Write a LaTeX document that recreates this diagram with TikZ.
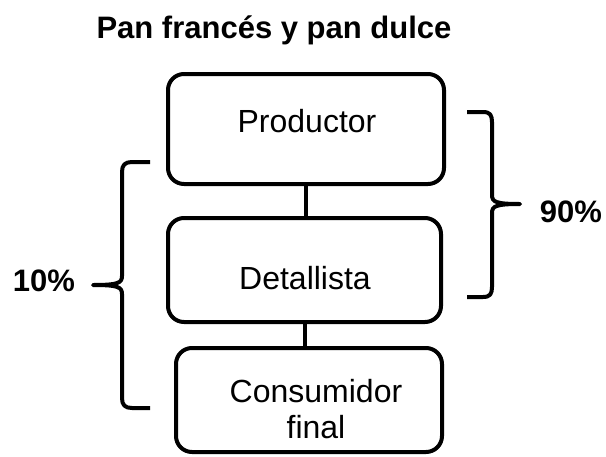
\documentclass[tikz,border=0pt]{standalone}
\usepackage{fontspec}
\setmainfont{Liberation Sans}
\begin{document}
\begin{tikzpicture}[x=1pt,y=-1pt,
  box/.style={draw, line width=4pt, rounded corners=16pt, inner sep=0pt},
  lbl/.style={anchor=base, inner sep=0pt, font=\fontsize{32}{36}\selectfont},
  blbl/.style={anchor=base, inner sep=0pt, font=\fontsize{31}{36}\selectfont\bfseries},
  link/.style={line width=4pt},
  brace/.style={line width=4pt, line join=round}]
\useasboundingbox (0,0) rectangle (606,456);
% boxes
\node[box, minimum width=276pt, minimum height=110pt] (prod) at (306,129) {};
\node[box, minimum width=273pt, minimum height=104pt] (det) at (304.5,270) {};
\node[box, minimum width=266pt, minimum height=104pt] (cons) at (309,400) {};
% texts
\node[blbl] (title) at (274,38) {Pan francés y pan dulce};
\node[lbl] (tprod) at (307,132) {Productor};
\node[lbl] (tdet) at (305,289) {Detallista};
\node[lbl, align=center] (tcons) at (316,438) {Consumidor\\final};
\node[blbl] (p10) at (44,291) {10\%};
\node[blbl] (p90) at (571,222) {90\%};
% connectors
\draw[link] (prod.south) -- (prod.south |- det.north);
\draw[link] (det.south -| 305,0) -- (cons.north -| 305,0);
% right brace
\coordinate (rt) at (467,112);
\coordinate (rb) at (467,297);
\coordinate (rtip) at (520,204);
\draw[brace] (rt) -- (483,112) .. controls (490,112) and (492,115) .. (492,122)
  -- (492,195) .. controls (492,202) and (496,204) .. (rtip)
  .. controls (496,204) and (492,206) .. (492,213)
  -- (492,287) .. controls (492,294) and (490,297) .. (483,297) -- (rb);
% left brace
\coordinate (lt) at (150,162);
\coordinate (lb) at (150,408);
\coordinate (ltip) at (93,285);
\draw[brace] (lt) -- (132,162) .. controls (125,162) and (122,165) .. (122,172)
  -- (122,276) .. controls (122,283) and (118,285) .. (ltip)
  .. controls (118,285) and (122,287) .. (122,294)
  -- (122,398) .. controls (122,405) and (125,408) .. (132,408) -- (lb);
\end{tikzpicture}
\end{document}
